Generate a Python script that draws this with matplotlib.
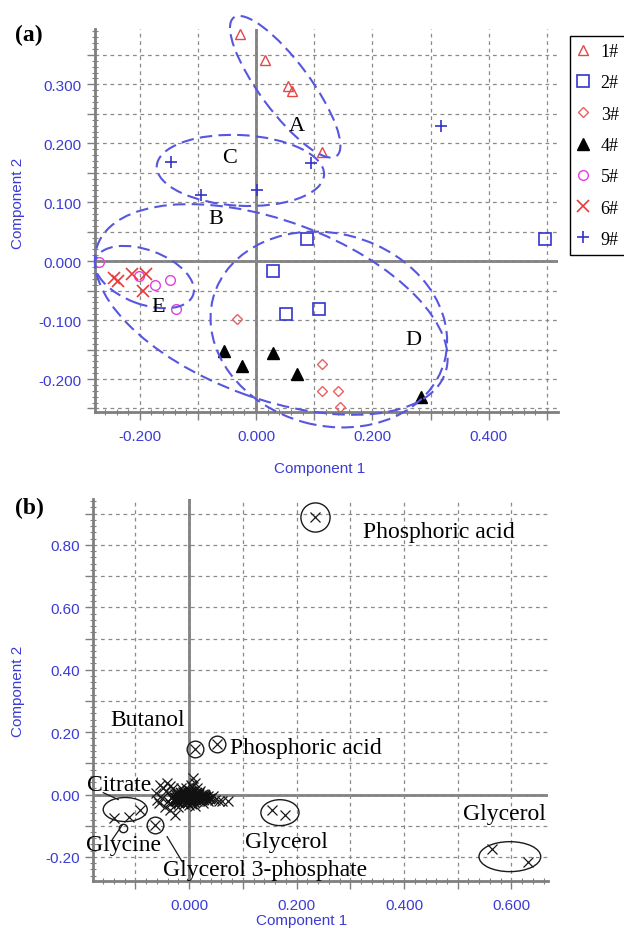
import matplotlib
matplotlib.use("Agg")
import matplotlib.pyplot as plt
import matplotlib.ticker as mticker
from matplotlib.patches import Ellipse

# ---- panel (a) data: score plot ----
s1_x = [-0.027, 0.015, 0.055, 0.062, 0.113]
s1_y = [0.385, 0.342, 0.297, 0.289, 0.186]
s2_x = [0.088, 0.496, 0.029, 0.052, 0.108]
s2_y = [0.038, 0.038, -0.017, -0.089, -0.082]
s3_x = [-0.033, 0.114, 0.114, 0.140, 0.144]
s3_y = [-0.099, -0.174, -0.221, -0.221, -0.248]
s4_x = [-0.055, -0.024, 0.029, 0.071, 0.283]
s4_y = [-0.152, -0.178, -0.156, -0.192, -0.231]
s5_x = [-0.270, -0.201, -0.173, -0.148, -0.137]
s5_y = [-0.002, -0.026, -0.041, -0.032, -0.082]
s6_x = [-0.244, -0.238, -0.213, -0.190, -0.194]
s6_y = [-0.029, -0.034, -0.022, -0.021, -0.051]
s9_x = [-0.146, -0.094, 0.002, 0.095, 0.318]
s9_y = [0.169, 0.113, 0.120, 0.166, 0.229]

groups = ["A", "B", "C", "D", "E"]
group_cx = [0.050, 0.026, -0.027, 0.125, -0.192]
group_cy = [0.296, -0.082, 0.154, -0.116, -0.027]
group_w = [0.294, 0.636, 0.288, 0.412, 0.178]
group_h = [0.086, 0.302, 0.120, 0.326, 0.092]
group_ang = [-53, -20, -3, -15, -20]
label_x = [0.070, -0.070, -0.045, 0.271, -0.168]
label_y = [0.231, 0.072, 0.176, -0.133, -0.077]

# ---- panel (b) data: loadings ----
clus_x = [-0.030, -0.028, -0.026, -0.024, -0.022, -0.020, -0.018, -0.016, -0.014,
          -0.012, -0.010, -0.008, -0.006, -0.004, -0.002, 0.000, 0.000, 0.002,
          0.004, 0.006, 0.008, 0.010, 0.012, 0.014, 0.016, 0.018, 0.020, 0.022,
          0.024, 0.026, 0.028, 0.030, 0.033, 0.036, 0.040, 0.044, 0.048,
          -0.035, -0.040, -0.044, -0.048, -0.054, -0.041, -0.036, -0.030, -0.050,
          -0.056, -0.045, -0.035, -0.026, -0.020, -0.010, 0.000, 0.005, 0.008,
          0.011, 0.004, 0.015, 0.020, 0.055, 0.061, 0.073, -0.015, -0.005, 0.025,
          0.035, 0.010, -0.060, -0.062,
          -0.140, -0.112, -0.091, 0.154, 0.179, 0.563, 0.631]
clus_y = [-0.005, -0.015, 0.002, -0.022, -0.008, 0.005, -0.018, -0.002, -0.025,
          0.008, -0.012, 0.000, -0.020, 0.010, -0.006, 0.015, -0.015, 0.004,
          -0.024, -0.004, 0.012, -0.014, 0.002, -0.020, -0.006, 0.006, -0.012, -0.002,
          -0.018, 0.003, -0.010, -0.004, -0.014, -0.006, -0.010, -0.004, -0.016,
          -0.030, -0.020, 0.010, 0.020, 0.032, 0.038, 0.028, 0.020, -0.010,
          -0.026, -0.040, -0.048, -0.064, -0.040, -0.030, -0.032, 0.025, 0.054,
          0.038, 0.032, 0.020, 0.012, -0.020, -0.022, -0.022, 0.020, 0.022, -0.026,
          -0.022, -0.036, -0.018, 0.005,
          -0.074, -0.072, -0.048, -0.048, -0.064, -0.176, -0.215]
# dense core of the loadings cloud
core_x = [-0.025, -0.021, -0.017, -0.013, -0.009, -0.005, -0.001, 0.003, 0.007,
          0.011, 0.015, 0.019, 0.023, 0.027, 0.031, -0.023, -0.019, -0.011, -0.003,
          0.005, 0.013, 0.021, 0.029, -0.015, -0.007, 0.001, 0.009, 0.017, 0.025,
          -0.027, -0.009, 0.003, 0.014, 0.032, 0.038, -0.032, 0.006, -0.018]
core_y = [-0.012, 0.000, -0.010, -0.004, -0.018, -0.010, -0.002, -0.012, 0.002,
          -0.006, -0.012, -0.002, -0.008, -0.016, -0.012, -0.020, -0.026, -0.016,
          -0.026, -0.018, -0.004, -0.020, -0.002, 0.006, 0.006, -0.022, -0.024,
          -0.014, -0.010, -0.020, 0.004, 0.008, 0.006, -0.008, -0.014, -0.012,
          -0.030, -0.028]

big_circ_x = [0.234]
big_circ_y = [0.888]
small_circ_x = [0.011, 0.052, -0.063]
small_circ_y = [0.147, 0.163, -0.096]

ell_cx = [-0.119, 0.169, 0.597]
ell_cy = [-0.048, -0.058, -0.199]
ell_w = [0.082, 0.071, 0.115]
ell_h = [0.077, 0.083, 0.096]

names = ["Phosphoric acid", "Butanol", "Phosphoric acid", "Citrate", "Glycine",
         "Glycerol 3-phosphate", "Glycerol", "Glycerol"]
names_x = [0.324, -0.147, 0.076, -0.190, -0.192, -0.048, 0.104, 0.510]
names_y = [0.843, 0.240, 0.150, 0.032, -0.160, -0.240, -0.151, -0.061]

blue = "#3b3bd6"
grey = "#7f7f7f"
serif = "Liberation Serif"
sans = "Liberation Sans"

fig = plt.figure(figsize=(6.24, 9.29), dpi=100)
ax1 = fig.add_axes([95 / 624, 1 - 413 / 929, 463 / 624, 383 / 929])
ax2 = fig.add_axes([93 / 624, 1 - 882 / 929, 455 / 624, 382 / 929])


def style_axes(ax, xmaj, ymaj, xmin, ymin, xfmt, yfmt, xstep, ystep):
    for s in ["top", "right"]:
        ax.spines[s].set_visible(False)
    for s in ["left", "bottom"]:
        ax.spines[s].set_color(grey)
        ax.spines[s].set_linewidth(2)
    ax.xaxis.set_major_locator(mticker.MultipleLocator(xmaj))
    ax.yaxis.set_major_locator(mticker.MultipleLocator(ymaj))
    ax.xaxis.set_minor_locator(mticker.MultipleLocator(xmin))
    ax.yaxis.set_minor_locator(mticker.MultipleLocator(ymin))

    def fx(v, p):
        k = round(v / xstep)
        return xfmt.format(0.0 if abs(v) < 1e-9 else v) if abs(v - k * xstep) < 1e-6 else ""

    def fy(v, p):
        k = round(v / ystep)
        return yfmt.format(0.0 if abs(v) < 1e-9 else v) if abs(v - k * ystep) < 1e-6 else ""

    ax.xaxis.set_major_formatter(mticker.FuncFormatter(fx))
    ax.yaxis.set_major_formatter(mticker.FuncFormatter(fy))
    ax.tick_params(which="major", direction="out", length=6, width=1, color=grey,
                   labelcolor=blue, labelsize=11)
    ax.tick_params(which="minor", direction="inout", length=4, width=0.8, color=grey)
    ax.tick_params(axis="x", pad=6)
    for lab in ax.get_xticklabels() + ax.get_yticklabels():
        lab.set_fontfamily(sans)
    ax.grid(True, which="major", color="#8a8a8a", linestyle=(0, (3, 3)), linewidth=0.9)
    ax.axhline(0, color=grey, linewidth=2, zorder=1.5)
    ax.axvline(0, color=grey, linewidth=2, zorder=1.5)
    ax.set_xlabel("Component 1", color=blue, fontsize=11, fontfamily=sans)
    ax.set_ylabel("Component 2", color=blue, fontsize=11, fontfamily=sans)


# ---------------- panel (a) ----------------
ax1.set_xlim(-0.277, 0.519)
ax1.set_ylim(-0.256, 0.394)
style_axes(ax1, 0.1, 0.05, 0.02, 0.01, "{:.3f}", "{:.3f}", 0.2, 0.1)
ax1.xaxis.set_label_coords(0.486, -0.128)
ax1.yaxis.set_label_coords(-0.151, 0.548)

h1, = ax1.plot(s1_x, s1_y, "^", mfc="none", mec="#e84545", ms=7, mew=1, ls="none", label="1#")
h2, = ax1.plot(s2_x, s2_y, "s", mfc="none", mec="#3434d0", ms=8, mew=1.2, ls="none", label="2#")
h3, = ax1.plot(s3_x, s3_y, "D", mfc="none", mec="#e86060", ms=5, mew=1, ls="none", label="3#")
h4, = ax1.plot(s4_x, s4_y, "^", color="black", ms=8, ls="none", label="4#")
h5, = ax1.plot(s5_x, s5_y, "o", mfc="none", mec="#e040e0", ms=7, mew=1, ls="none", label="5#")
h6, = ax1.plot(s6_x, s6_y, "x", color="#e83a3a", ms=8, mew=1.2, ls="none", label="6#")
h9, = ax1.plot(s9_x, s9_y, "+", color="#3434c8", ms=8, mew=1.2, ls="none", label="9#")

for cx, cy, w, h, a in zip(group_cx, group_cy, group_w, group_h, group_ang):
    ax1.add_patch(Ellipse((cx, cy), w, h, angle=a, fill=False, edgecolor="#5656e0",
                          linestyle=(0, (6, 3)), linewidth=1.5, clip_on=False, zorder=3))
for g, lx, ly in zip(groups, label_x, label_y):
    ax1.text(lx, ly, g, fontsize=16, fontfamily=serif, ha="center", va="center")

leg = ax1.legend(handles=[h1, h2, h3, h4, h5, h6, h9], loc="upper left",
                 bbox_to_anchor=(570 / 624, 1 - 37 / 929), bbox_transform=fig.transFigure,
                 prop={"family": serif, "size": 13}, fancybox=False, edgecolor="black",
                 framealpha=1, labelspacing=0.79, handlelength=0.6, handletextpad=0.7,
                 borderpad=0.4, borderaxespad=0)
leg.get_frame().set_linewidth(1)

fig.text(15 / 624, 1 - 35 / 929, "(a)", fontsize=17, fontweight="bold", fontfamily=serif,
         va="center")

# ---------------- panel (b) ----------------
ax2.set_xlim(-0.179, 0.668)
ax2.set_ylim(-0.277, 0.947)
style_axes(ax2, 0.1, 0.1, 0.02, 0.02, "{:.3f}", "{:.2f}", 0.2, 0.2)
ax2.xaxis.set_label_coords(0.459, -0.085)
ax2.yaxis.set_label_coords(-0.149, 0.5)

ax2.plot(clus_x, clus_y, "x", color="#1a1a1a", ms=7, mew=0.9, ls="none", zorder=4)
ax2.plot(core_x, core_y, "x", color="#111111", ms=7, mew=1.2, ls="none", zorder=4)
ax2.plot(big_circ_x, big_circ_y, "o", mfc="none", mec="#1a1a1a", ms=21, mew=1, ls="none")
ax2.plot(big_circ_x, big_circ_y, "x", color="#1a1a1a", ms=7, mew=0.9, ls="none")
ax2.plot(small_circ_x, small_circ_y, "o", mfc="none", mec="#1a1a1a", ms=12, mew=1, ls="none")
ax2.plot(small_circ_x, small_circ_y, "x", color="#1a1a1a", ms=7, mew=0.9, ls="none")
ax2.plot([-0.123], [-0.106], "o", mfc="none", mec="#1a1a1a", ms=6, mew=1, ls="none")

for cx, cy, w, h in zip(ell_cx, ell_cy, ell_w, ell_h):
    ax2.add_patch(Ellipse((cx, cy), w, h, fill=False, edgecolor="#1a1a1a", linewidth=1,
                          zorder=4))

# leader lines
ax2.plot([-0.160, -0.132], [0.006, -0.016], color="#1a1a1a", lw=0.9, clip_on=False)
ax2.plot([-0.143, -0.125], [-0.144, -0.099], color="#1a1a1a", lw=0.9, clip_on=False)
ax2.plot([-0.041, -0.013], [-0.135, -0.215], color="#1a1a1a", lw=0.9, clip_on=False)

for n, nx, ny in zip(names, names_x, names_y):
    ax2.text(nx, ny, n, fontsize=17, fontfamily=serif, ha="left", va="center",
             clip_on=False, zorder=5)

fig.text(15 / 624, 1 - 508 / 929, "(b)", fontsize=17, fontweight="bold", fontfamily=serif,
         va="center")

fig.savefig("out.png", dpi=100, facecolor="white")
